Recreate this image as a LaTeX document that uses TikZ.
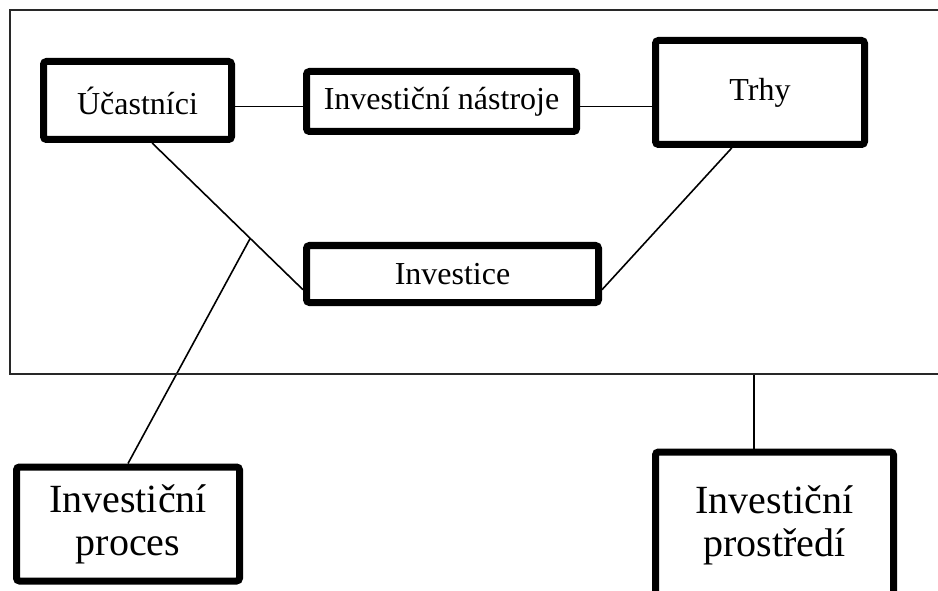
\documentclass[tikz,border=0pt]{standalone}
\usepackage{fontspec}
\setmainfont{Liberation Serif}
\usepackage{tikz}
\usetikzlibrary{
  positioning,
  calc,
  backgrounds,
  shadows
}
\definecolor{FrameGray}{RGB}{40, 40, 40}
\tikzset{
    thickbox/.style={rectangle, draw=black, line width=7pt, rounded corners=3pt, fill=white, inner sep=0pt, align=center,
        drop shadow={shadow xshift=1.5pt, shadow yshift=-2pt, opacity=0.2}},
    smalltext/.style={font=\fontsize{32}{36}\selectfont},
    bigtext/.style={font=\fontsize{40}{43}\selectfont},
    link/.style={draw=black, line width=1.6pt}
}

\begin{document}
\begin{tikzpicture}[x=1pt, y=-1pt]
    \useasboundingbox (0,0) rectangle (938,591);
    % frame round the inner parts
    \draw[FrameGray, line width=1.6pt] (10,10) rectangle (960,374);
    \coordinate (framebottom) at (754,374);

    \node[thickbox, smalltext, minimum width=188pt, minimum height=78pt] (ucastnici) at (137.5,100.5) {Účastníci};
    \node[thickbox, smalltext, minimum width=270pt, minimum height=60pt] (nastroje) at (441.5,101.5) {Investiční nástroje};
    \node[thickbox, smalltext, minimum width=209pt, minimum height=104pt] (trhy) at (760,92.5) {Trhy};
    \node[thickbox, smalltext, minimum width=292pt, minimum height=57pt] (investice) at (452.5,274) {Investice};
    \node[thickbox, bigtext, minimum width=223pt, minimum height=114pt] (proces) at (128,524) {Investiční\\proces};
    \node[thickbox, bigtext, minimum width=238pt, minimum height=146pt] (prostredi) at (774.5,525) {Investiční\\prostředí};

    \begin{scope}[on background layer]
        \coordinate (ucright) at ($(ucastnici.east)+(0,6)$);
        \coordinate (nasright) at ($(nastroje.east)+(0,5)$);
        \draw[link] (ucright) -- (ucright -| nastroje.west);
        \draw[link] (nasright) -- (nasright -| trhy.west);
        \draw[link] (ucastnici.-71) -- (investice.186);
        \draw[link] (trhy.-117) -- (investice.-6);
        \coordinate (branch) at ($(ucastnici.-71)!0.65!(investice.186)$);
        \draw[link] (branch) -- (proces.north);
        \draw[link] (framebottom) -- (framebottom |- prostredi.north);
    \end{scope}
\end{tikzpicture}
\end{document}
